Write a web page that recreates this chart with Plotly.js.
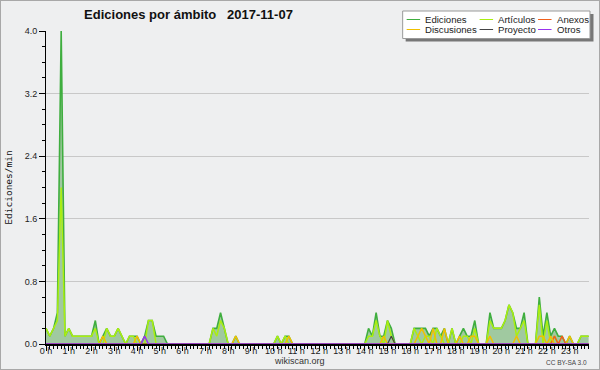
<!DOCTYPE html>
<html><head><meta charset="utf-8">
<script src="https://cdn.plot.ly/plotly-3.0.1.min.js"></script>
<style>
html,body{margin:0;padding:0;background:#eeeff0}
#wrap{position:relative;width:600px;height:370px}
#chart{width:600px;height:370px}
#frame{position:absolute;left:0;top:0;width:598px;height:368px;border:1px solid #a8a8a8;pointer-events:none}
</style>
</head><body><div id="wrap"><div id="chart"></div><div id="frame"></div></div>
<script>
// 10-minute slots, 144 per day (rows of 12 = 2 hours)
const ediciones = [
0.2,0.1,0.2,0.4,4.0,0.1,0.2,0.1,0.1,0.1,0.1,0.1,
0.1,0.3,0,0.1,0.2,0.1,0.1,0.2,0.1,0,0.1,0.1,
0.1,0,0.1,0.3,0.3,0.1,0.1,0.1,0,0,0,0,
0,0,0,0,0,0,0,0,0.2,0.2,0.4,0.2,
0,0,0.1,0,0,0,0,0,0,0,0,0,
0,0.1,0,0.1,0.1,0,0,0,0,0,0,0,
0,0,0,0,0,0,0,0,0,0,0,0,
0,0.2,0.1,0.4,0.1,0.1,0.3,0.2,0,0,0,0,
0,0.2,0.2,0.2,0.2,0.1,0.2,0.2,0.1,0.2,0,0.2,
0,0.1,0.2,0.1,0.1,0.3,0,0,0,0.4,0.2,0.2,
0.2,0.3,0.5,0.4,0.2,0.2,0.4,0,0,0,0.6,0.1,
0.4,0.1,0.2,0.1,0.1,0,0.1,0,0,0.1,0.1,0.1];
const articulos = [
0.2,0.1,0.2,0.3,2.0,0.1,0.2,0.1,0.1,0.1,0.1,0.1,
0.1,0.2,0,0,0.2,0.1,0.1,0.2,0.1,0,0.1,0.1,
0,0,0,0.3,0.3,0,0,0,0,0,0,0,
0,0,0,0,0,0,0,0,0.2,0.1,0.3,0.2,
0,0,0,0,0,0,0,0,0,0,0,0,
0,0.1,0,0.1,0,0,0,0,0,0,0,0,
0,0,0,0,0,0,0,0,0,0,0,0,
0,0.1,0.1,0.3,0.1,0,0.3,0.1,0,0,0,0,
0,0.2,0.1,0,0.1,0.1,0,0.2,0.1,0,0,0.2,
0,0,0.1,0.1,0,0.2,0,0,0,0.3,0.2,0.2,
0.2,0.3,0.5,0.4,0.1,0.2,0.3,0,0,0,0.5,0,
0.3,0,0.1,0,0,0,0,0,0,0.1,0.1,0.1];
const anexos = [
0,0,0,0,0,0,0,0,0,0,0,0,
0,0,0,0,0,0,0,0,0,0,0,0,
0,0,0,0,0,0,0,0,0,0,0,0,
0,0,0,0,0,0,0,0,0,0,0,0,
0,0,0,0,0,0,0,0,0,0,0,0,
0,0,0,0,0,0,0,0,0,0,0,0,
0,0,0,0,0,0,0,0,0,0,0,0,
0,0,0,0,0,0,0,0,0,0,0,0,
0,0,0,0,0,0,0,0,0,0,0,0,
0,0,0,0,0,0,0,0,0,0,0,0,
0,0,0,0,0,0,0,0,0,0,0,0,
0,0,0.1,0,0.1,0,0,0,0,0,0,0];
const discusiones = [
0,0,0,0,0,0,0,0,0,0,0,0,
0,0,0,0.1,0,0,0,0,0,0,0,0,
0.1,0,0,0,0,0,0,0,0,0,0,0,
0,0,0,0,0,0,0,0,0,0,0,0,
0,0,0.1,0,0,0,0,0,0,0,0,0,
0,0,0,0,0.1,0,0,0,0,0,0,0,
0,0,0,0,0,0,0,0,0,0,0,0,
0,0,0,0,0,0.1,0,0,0,0,0,0,
0,0,0.1,0.2,0.1,0,0.2,0,0,0.2,0,0,
0,0.1,0,0,0.1,0.1,0,0,0,0.1,0,0,
0,0,0,0,0.1,0,0,0,0,0,0.1,0.1,
0,0.1,0,0,0,0,0.1,0,0,0,0,0];
const proyecto = [
0,0,0,0,0,0,0,0,0,0,0,0,
0,0,0,0,0,0,0,0,0,0,0,0,
0,0,0,0,0,0,0,0,0,0,0,0,
0,0,0,0,0,0,0,0,0,0,0,0,
0,0,0,0,0,0,0,0,0,0,0,0,
0,0,0,0,0,0,0,0,0,0,0,0,
0,0,0,0,0,0,0,0,0,0,0,0,
0,0,0,0,0,0,0,0.1,0,0,0,0,
0,0,0,0,0,0,0,0,0,0,0,0,
0,0,0,0,0,0,0,0,0,0,0,0,
0,0,0,0,0,0,0,0,0,0,0,0,
0,0,0,0,0,0,0,0,0,0,0,0];
const otros = [
0,0,0,0,0,0,0,0,0,0,0,0,
0,0,0,0,0,0,0,0,0,0,0,0,
0,0,0.1,0,0,0,0,0,0,0,0,0,
0,0,0,0,0,0,0,0,0,0,0,0,
0,0,0,0,0,0,0,0,0,0,0,0,
0,0,0,0,0,0,0,0,0,0,0,0,
0,0,0,0,0,0,0,0,0,0,0,0,
0,0,0,0,0,0,0,0,0,0,0,0,
0,0,0,0,0,0,0,0,0,0,0,0,
0,0,0,0,0,0,0,0,0,0,0,0,
0,0,0,0,0,0,0,0,0,0,0,0,
0,0,0,0,0,0,0,0,0,0,0,0];
const hourTicks = [0,1,2,3,4,5,6,7,8,9,10,11,12,13,14,15,16,17,18,19,20,21,22,23];
const hourLabels = ['0 h','1 h','2 h','3 h','4 h','5 h','6 h','7 h','8 h','9 h','10 h','11 h',
  '12 h','13 h','14 h','15 h','16 h','17 h','18 h','19 h','20 h','21 h','22 h','23 h'];

const slotHours = ediciones.map((_, i) => i / 6);
const FONT = 'Liberation Sans, Arial, sans-serif';

function line(name, y, color, width, extra) {
  return Object.assign({type:'scatter', mode:'lines', name, x: slotHours, y,
    line:{color, width, shape:'linear'}, hoverinfo:'skip', showlegend:false}, extra || {});
}
const traces = [
  line('Ediciones', ediciones, '#3fae3f', 1.6, {fill:'tozeroy', fillcolor:'#a0c9a0'}),
  line('Artículos', articulos, '#aaee11', 1.5),
  line('Anexos', anexos, '#f0601c', 1.5),
  line('Discusiones', discusiones, '#f0c000', 1.5),
  line('Proyecto', proyecto, '#444444', 1.2),
  line('Otros', otros, '#9933ee', 1.5)
];

const PL = 46, PR = 589.5, PT = 31, PB = 344;
const pw = PR - PL, ph = PB - PT;
const px = v => (v - PL) / pw, py = v => (PB - v) / ph;

// hand-drawn legend box (3 columns x 2 rows) in pixel layout
const shapes = [
  {type: 'rect', xref: 'paper', yref: 'paper', x0: px(406), x1: px(594), y0: py(14), y1: py(41.5),
   fillcolor: '#777777', line: {width: 0}, layer: 'above'},
  {type: 'rect', xref: 'paper', yref: 'paper', x0: px(403), x1: px(590.5), y0: py(11), y1: py(38.5),
   fillcolor: '#ffffff', line: {width: 1, color: '#999999'}, layer: 'above'}
];
const annotations = [
  {text: 'wikiscan.org', xref: 'paper', yref: 'paper', x: px(300), y: py(361.5), xanchor: 'center', yanchor: 'middle',
   showarrow: false, font: {family: FONT, size: 9, color: '#333'}},
  {text: 'CC BY-SA 3.0', xref: 'paper', yref: 'paper', x: px(590), y: py(362), xanchor: 'right', yanchor: 'middle',
   showarrow: false, font: {family: FONT, size: 6.5, color: '#444'}}
];
const colX = [407, 480, 538.5], rowY = [19.5, 29.5];
traces.forEach((t, k) => {
  const cx = colX[k % 3], cy = rowY[Math.floor(k / 3)];
  shapes.push({type: 'line', xref: 'paper', yref: 'paper', x0: px(cx), x1: px(cx + 13.5), y0: py(cy), y1: py(cy),
    line: {color: t.line.color, width: 1}, layer: 'above'});
  annotations.push({text: t.name, xref: 'paper', yref: 'paper', x: px(cx + 17.5), y: py(cy), xanchor: 'left', yanchor: 'middle',
    showarrow: false, font: {family: FONT, size: 9.6, color: '#222'}, borderpad: 0});
});

const layout = {
  width: 600, height: 370,
  margin: {l: PL, r: 600 - PR, t: PT, b: 370 - PB, pad: 0},
  paper_bgcolor: '#eeeff0', plot_bgcolor: '#eeeff0',
  font: {family: FONT, color: '#222', size: 9},
  title: {text: 'Ediciones por ámbito   2017-11-07', xref: 'container', yref: 'container',
    x: 188.5/600, xanchor: 'center', y: 1 - 14.5/370, yanchor: 'middle',
    font: {family: FONT, size: 13, weight: 'bold', color: '#111'}},
  showlegend: false,
  xaxis: {range: [0, 23.85], tickmode: 'array', tickvals: hourTicks, ticktext: hourLabels,
    ticks: 'outside', ticklen: 5, tickwidth: 1, tickcolor: '#000', ticklabelstandoff: -8,
    showline: true, linecolor: '#000', linewidth: 2, showgrid: false, zeroline: false,
    tickfont: {family: FONT, size: 9, color: '#222'},
    minor: {dtick: 1/6, tick0: 0, ticks: 'outside', ticklen: 3, tickwidth: 1, tickcolor: '#000', showgrid: false},
    fixedrange: true},
  yaxis: {range: [0, 4.0], tick0: 0, dtick: 0.8, tickformat: '.1f',
    ticks: 'outside', ticklen: 6, tickwidth: 1, tickcolor: '#000',
    showline: true, linecolor: '#000', linewidth: 1, showgrid: true, gridcolor: '#c8c8c8', gridwidth: 1,
    zeroline: false,
    tickfont: {family: FONT, size: 9, color: '#222'},
    minor: {dtick: 0.2, tick0: 0, ticks: 'outside', ticklen: 3, tickwidth: 1, tickcolor: '#000', showgrid: false},
    title: {text: 'Ediciones/min', font: {family: 'DejaVu Sans Mono, monospace', size: 9.5, color: '#111'}, standoff: 10},
    fixedrange: true},
  shapes, annotations
};

Plotly.newPlot('chart', traces, layout, {displayModeBar: false, staticPlot: true});
</script>
</body></html>
